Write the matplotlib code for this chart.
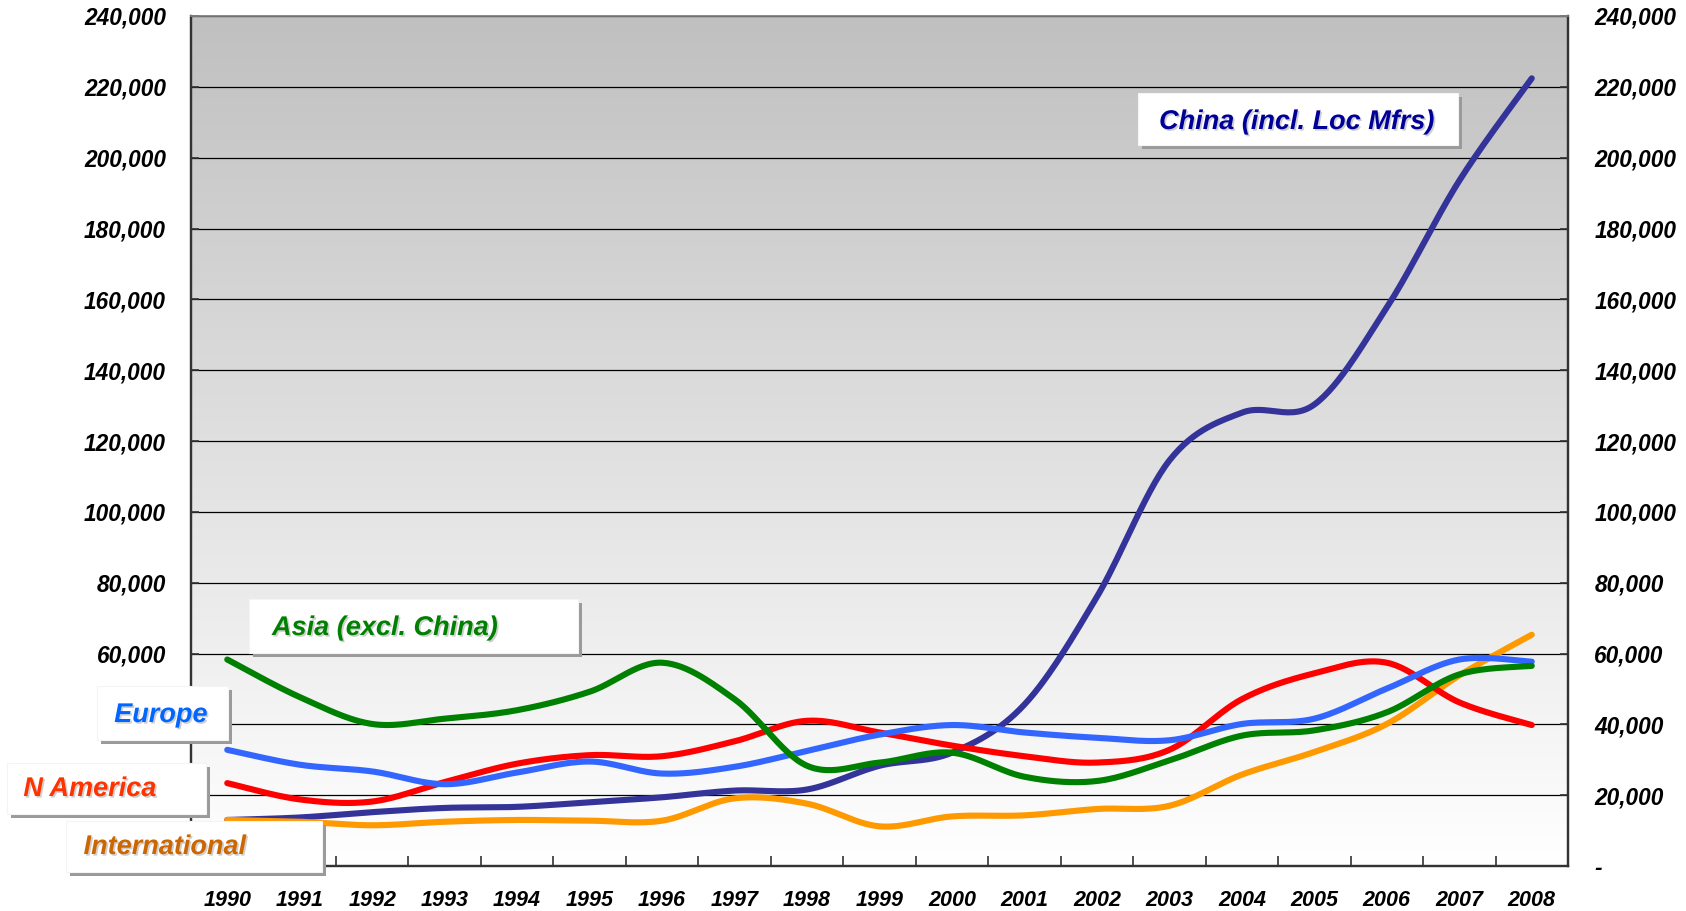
import numpy as np
import matplotlib
matplotlib.use("Agg")
import matplotlib.pyplot as plt
from matplotlib.patches import Rectangle
from matplotlib.ticker import FuncFormatter, FixedLocator
import matplotlib.patheffects as pe

plt.rcParams['font.family'] = ['Liberation Sans', 'DejaVu Sans']

years = ['1990', '1991', '1992', '1993', '1994', '1995', '1996', '1997', '1998', '1999',
         '2000', '2001', '2002', '2003', '2004', '2005', '2006', '2007', '2008']

china = [13000, 13700, 15200, 16400, 16700, 18000, 19400, 21300, 21600, 28300,
         32000, 45600, 76000, 114500, 128000, 130300, 157700, 193500, 222400]
asia = [58300, 47700, 40100, 41600, 44000, 49200, 57400, 47100, 28300, 29200,
        32000, 25200, 24000, 29800, 36800, 38300, 43400, 54100, 56500]
europe = [32800, 28600, 26700, 23100, 26400, 29500, 26100, 28000, 32500, 37100,
          39800, 37700, 36200, 35500, 40100, 41600, 50100, 58300, 57700]
namerica = [23400, 18800, 18200, 23700, 28900, 31300, 31000, 35200, 41000, 37700,
            34000, 31000, 29200, 32800, 47100, 54400, 57400, 46200, 39800]
international = [13000, 12500, 11500, 12500, 13000, 12800, 12800, 19100, 17600, 11200,
                 14000, 14300, 16100, 17000, 25800, 32200, 40100, 53800, 65300]

yticks = list(range(0, 240001, 20000))
# left-side labels hidden behind the series label boxes in the reference
hidden_left = [0, 20000, 40000]


def smooth(xs, ys, n=30):
    """Catmull-Rom rendering of a line through the given points (Excel-like smoothed line)."""
    p = np.column_stack([xs, ys]).astype(float)
    ext = np.vstack([p[0], p, p[-1]])
    out = []
    t = np.linspace(0, 1, n, endpoint=False)[:, None]
    for i in range(1, len(ext) - 2):
        p0, p1, p2, p3 = ext[i - 1], ext[i], ext[i + 1], ext[i + 2]
        c1 = p1 + (p2 - p0) / 6.0
        c2 = p2 - (p3 - p1) / 6.0
        seg = ((1 - t) ** 3) * p1 + 3 * ((1 - t) ** 2) * t * c1 + 3 * (1 - t) * t ** 2 * c2 + t ** 3 * p2
        out.append(seg)
    out.append(p[-1][None, :])
    arr = np.vstack(out)
    return arr[:, 0], arr[:, 1]


W, H = 1686, 911
fig = plt.figure(figsize=(W / 100, H / 100), dpi=100)
ax = fig.add_axes([191 / W, 1 - 866 / H, (1568 - 191) / W, (866 - 16) / H])

x = np.arange(len(years))
ax.set_xlim(-0.5, len(years) - 0.5)

# gradient background: gray at top fading to white at bottom
grad = np.linspace(0, 1, 256)[:, None]
top = np.array([192, 192, 192]) / 255.0
bot = np.array([255, 255, 255]) / 255.0
img = top[None, None, :] * (1 - grad[:, :, None]) + bot[None, None, :] * grad[:, :, None]
ax.imshow(img, extent=[-0.5, len(years) - 0.5, 0, 240000], origin='upper', aspect='auto',
          zorder=0, interpolation='bilinear')
ax.set_ylim(0, 240000)

ax.yaxis.set_major_locator(FixedLocator(yticks))
ax.grid(axis='y', color='black', linewidth=0.9, zorder=1)
ax.set_axisbelow(False)

fmt_right = FuncFormatter(lambda v, p: '-' if v == 0 else f"{v:,.0f}")
fmt_left = FuncFormatter(lambda v, p: '' if v in hidden_left else f"{v:,.0f}")
ax.yaxis.set_major_formatter(fmt_left)

series = [
    (china, '#333399'),
    (international, '#FF9900'),
    (namerica, '#FF0000'),
    (europe, '#3366FF'),
    (asia, '#008000'),
]
for vals, col in series:
    sx, sy = smooth(x, vals)
    ax.plot(sx, sy, color=col, linewidth=4.4, solid_capstyle='round', zorder=3)

ax.set_xticks(x)
ax.set_xticklabels(years)
ax.set_xticks(np.arange(0.5, len(years) - 1, 1.0), minor=True)
ax.tick_params(axis='x', which='major', length=0, pad=17)
ax.tick_params(axis='x', which='minor', direction='in', length=7, width=1.2, color='#333333')
ax.tick_params(axis='y', direction='in', length=6, width=1.2, color='#333333', pad=18)

for lab in ax.get_xticklabels():
    lab.set_fontsize(15.5)
    lab.set_fontweight('bold')
    lab.set_fontstyle('italic')
for lab in ax.get_yticklabels():
    lab.set_fontsize(16.3)
    lab.set_fontweight('bold')
    lab.set_fontstyle('italic')

ax2 = ax.twinx()
ax2.set_ylim(0, 240000)
ax2.yaxis.set_major_locator(FixedLocator(yticks))
ax2.yaxis.set_major_formatter(fmt_right)
ax2.tick_params(axis='y', direction='in', length=6, width=1.2, color='#333333', pad=19)
for lab in ax2.get_yticklabels():
    lab.set_fontsize(16.3)
    lab.set_fontweight('bold')
    lab.set_fontstyle('italic')

for a in (ax, ax2):
    for s in ('left', 'right', 'bottom'):
        a.spines[s].set_color('#333333')
        a.spines[s].set_linewidth(1.6)
    a.spines['top'].set_color('#888888')
    a.spines['top'].set_linewidth(1.2)

# label boxes (figure pixel coords: x0, y_top, x1, y_bottom), text anchor x, text centre y
labels = [
    ("China (incl. Loc Mfrs)", '#000099', (1138, 93, 1458, 145), 1297, 122, 'center'),
    ("Asia (excl. China)", '#008000', (249, 599, 578, 653), 272, 628, 'left'),
    ("Europe", '#0066FF', (97, 686, 228, 740), 161, 715, 'center'),
    ("N America", '#FF3300', (7, 763, 206, 814), 90, 789, 'center'),
    ("International", '#CC6600', (66, 821, 322, 872), 165, 847, 'center'),
]
for text, col, (x0, y0, x1, y1), tx, ty, ha in labels:
    fx0, fx1 = x0 / W, x1 / W
    fy0, fy1 = 1 - y1 / H, 1 - y0 / H
    sh = Rectangle((fx0 + 4 / W, fy0 - 4 / H), fx1 - fx0, fy1 - fy0, transform=fig.transFigure,
                   facecolor='#9a9a9a', edgecolor='none', zorder=10)
    bx = Rectangle((fx0, fy0), fx1 - fx0, fy1 - fy0, transform=fig.transFigure,
                   facecolor='white', edgecolor='#f4f4f4', linewidth=0.8, zorder=11)
    fig.add_artist(sh)
    fig.add_artist(bx)
    fig.text(tx / W, 1 - ty / H, text, color=col, fontsize=19.5, fontweight='bold',
             fontstyle='italic', ha=ha, va='center', zorder=12,
             path_effects=[pe.SimplePatchShadow(offset=(1.2, -1.2), shadow_rgbFace='#777777', alpha=0.35),
                           pe.Normal()])

fig.savefig('out.png', dpi=100)
